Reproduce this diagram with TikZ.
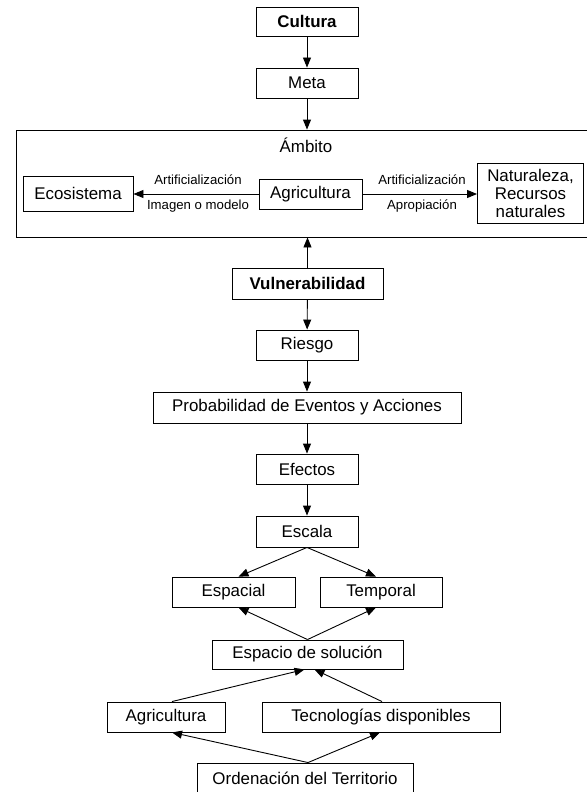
\documentclass[tikz,border=0pt]{standalone}
\usepackage{fontspec}
\setmainfont{Liberation Sans}
\usetikzlibrary{arrows.meta,calc}

\tikzset{
  box/.style={draw, line width=0.9pt, inner sep=0pt, align=center,
    font=\fontsize{16.9}{18}\selectfont},
  lbl/.style={inner sep=0pt, font=\fontsize{13.2}{15}\selectfont},
  arr/.style={line width=0.9pt, -{Triangle[length=10pt,width=8pt]}},
}

\begin{document}
\begin{tikzpicture}[x=1pt,y=-1pt]
\useasboundingbox (0,0) rectangle (586,792);

% upper chain
\node[box, minimum width=102pt, minimum height=29pt] (cult) at (307,21.5) {\bfseries Cultura};
\node[box, minimum width=102pt, minimum height=30pt] (meta) at (307,83) {Meta};

% scope container with its three elements
\node[box, minimum width=573pt, minimum height=107pt] (amb) at (302.5,183.5) {};
\node[lbl, font=\fontsize{16.9}{18}\selectfont] (ambt) at (306,145) {Ámbito};
\node[box, minimum width=110pt, minimum height=35pt] (eco) at (78,193.5) {Ecosistema};
\node[box, minimum width=103pt, minimum height=30pt] (agr1) at (310.5,194) {Agricultura};
\node[box, minimum width=106pt, minimum height=60pt] (nat) at (530.5,193) {Naturaleza,\\Recursos\\naturales};

\node[lbl] (la1) at (198,180) {Artificialización};
\node[lbl] (lb1) at (198,206.5) {Imagen o modelo};
\node[lbl] (la2) at (422,180) {Artificialización};
\node[lbl] (lb2) at (422,206.5) {Apropiación};

% middle chain
\node[box, minimum width=151pt, minimum height=31pt] (vul) at (307.5,283.5) {\bfseries Vulnerabilidad};
\node[box, minimum width=102pt, minimum height=30pt] (rie) at (307,345) {Riesgo};
\node[box, minimum width=308pt, minimum height=31pt] (prob) at (307,407.5) {Probabilidad de Eventos y Acciones};
\node[box, minimum width=102pt, minimum height=30pt] (efe) at (307,469) {Efectos};
\node[box, minimum width=102pt, minimum height=31pt] (esc) at (307,531.5) {Escala};

% lower part
\node[box, minimum width=123pt, minimum height=30pt] (espa) at (233.5,592) {Espacial};
\node[box, minimum width=122pt, minimum height=30pt] (temp) at (381,592) {Temporal};
\node[box, minimum width=191pt, minimum height=29pt] (sol) at (307.5,654.5) {Espacio de solución};
\node[box, minimum width=118pt, minimum height=30pt] (agr2) at (166,717) {Agricultura};
\node[box, minimum width=238pt, minimum height=30pt] (tec) at (381,717) {Tecnologías disponibles};
\node[box, minimum width=216pt, minimum height=30pt] (ord) at (305,778) {Ordenación del Territorio};

% connectors
\draw[arr] (cult) -- (meta);
\draw[arr] (meta) -- (meta |- amb.north);
\draw[arr] (agr1.west) -- (eco.east |- agr1.west);
\draw[arr] (agr1.east) -- (nat.west |- agr1.east);
\draw[arr] (vul) -- (vul |- amb.south);
\draw[arr] (vul) -- (rie);
\draw[arr] (rie) -- (prob);
\draw[arr] (prob) -- (efe);
\draw[arr] (efe) -- (esc);
\draw[arr] (esc.south) -- ($(espa.north)+(5,0)$);
\draw[arr] (esc.south) -- ($(temp.north)+(-5,0)$);
\draw[arr] (sol.north) -- ($(espa.south)+(5,0)$);
\draw[arr] (sol.north) -- ($(temp.south)+(-5,0)$);
\draw[arr] ($(agr2.north)+(6,0)$) -- ($(sol.south)+(-3,0)$);
\draw[arr] ($(tec.north)+(1,0)$) -- ($(sol.south)+(7,0)$);
\draw[arr] ($(ord.north)+(3,0)$) -- ($(agr2.south)+(6,0)$);
\draw[arr] ($(ord.north)+(3,0)$) -- ($(tec.south)+(-1,0)$);
\end{tikzpicture}
\end{document}
